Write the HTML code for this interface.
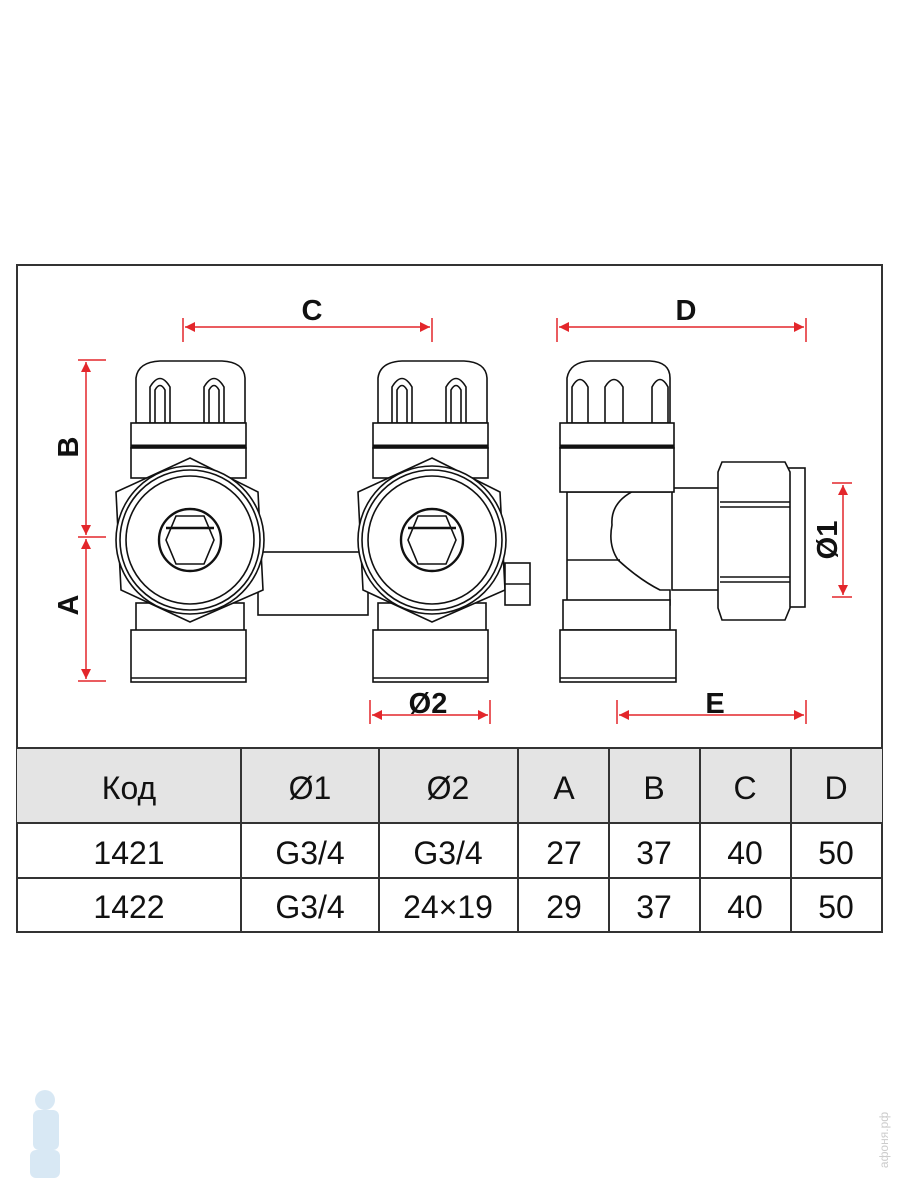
<!DOCTYPE html>
<html><head><meta charset="utf-8"><style>
html,body{margin:0;padding:0;background:#fff;width:900px;height:1200px;overflow:hidden}
svg{display:block}
text{font-family:"Liberation Sans",sans-serif}
</style></head><body>
<svg width="900" height="1200" viewBox="0 0 900 1200" xmlns="http://www.w3.org/2000/svg">
<defs>
<marker id="ar" viewBox="0 0 10 10" refX="10" refY="5" markerWidth="22" markerHeight="10" orient="auto-start-reverse" markerUnits="userSpaceOnUse"><path d="M0,0L10,5L0,10z" fill="#e3262b"/></marker>
<g id="valve" fill="#fff" stroke="#111" stroke-width="1.6">
  <path d="M136,378 Q138,362 160,361 L222,361 Q244,362 245,378 L245,423 L136,423z"/>
  <path d="M150,423 L150,387 Q160,370 170,387 L170,423 M204,423 L204,387 Q214,370 224,387 L224,423" fill="none"/>
  <path d="M155,423 L155,390 Q160,381 165,390 L165,423 M209,423 L209,390 Q214,381 219,390 L219,423" fill="none"/>
  <rect x="131" y="423" width="115" height="25"/>
  <line x1="131" y1="446" x2="246" y2="446" stroke-width="3"/>
  <rect x="131" y="448" width="115" height="30"/>
  <rect x="136" y="603" width="108" height="28"/>
  <rect x="131" y="630" width="115" height="52"/>
  <line x1="131" y1="678" x2="246" y2="678"/>
  <polygon points="190,458 258,492 263,590 190,622 121,590 116,492"/>
  <circle cx="190" cy="540" r="74"/>
  <circle cx="190" cy="540" r="70"/>
  <circle cx="190" cy="540" r="64"/>
  <circle cx="190" cy="540" r="31" stroke-width="2.4"/>
  <polygon points="176,516 204,516 214,540 204,564 176,564 166,540"/>
  <line x1="166" y1="528" x2="214" y2="528" stroke-width="2.5"/>
</g>
</defs>
<rect x="17" y="265" width="865" height="667" fill="#fff" stroke="#333" stroke-width="2"/>
<rect x="258" y="552" width="110" height="63" fill="#fff" stroke="#111" stroke-width="1.6"/>
<use href="#valve"/>
<use href="#valve" x="242"/>
<rect x="505" y="563" width="25" height="42" fill="#fff" stroke="#111" stroke-width="1.6"/>
<line x1="505" y1="584" x2="530" y2="584" stroke="#111" stroke-width="1.6"/>
<g fill="#fff" stroke="#111" stroke-width="1.6">
  <rect x="672" y="488" width="50" height="102"/>
  <path d="M567,448 L670,448 L670,488 L640,488 Q610,500 612,525 Q608,545 618,560 Q640,580 660,590 L670,590 L670,605 L567,605z"/>
  <line x1="567" y1="492" x2="670" y2="492"/>
  <line x1="567" y1="560" x2="620" y2="560"/>
  <path d="M567,378 Q570,362 590,361 L650,361 Q670,362 670,378 L670,423 L567,423z"/>
  <path d="M572,423 L572,387 Q580,372 588,387 L588,423 M605,423 L605,387 Q614,372 623,387 L623,423 M652,423 L652,387 Q660,372 668,387 L668,423" fill="none"/>
  <rect x="560" y="423" width="114" height="25"/>
  <line x1="560" y1="446" x2="674" y2="446" stroke-width="3"/>
  <rect x="560" y="448" width="114" height="44"/>
  <rect x="563" y="600" width="107" height="30"/>
  <rect x="560" y="630" width="116" height="52"/>
  <line x1="560" y1="678" x2="676" y2="678"/>
  <rect x="788" y="468" width="17" height="139"/>
  <polygon points="722,462 785,462 790,472 790,608 785,620 722,620 718,608 718,472"/>
  <line x1="720" y1="502" x2="790" y2="502"/><line x1="720" y1="507" x2="790" y2="507"/>
  <line x1="720" y1="577" x2="790" y2="577"/><line x1="720" y1="582" x2="790" y2="582"/>
</g>
<g stroke="#e3262b" stroke-width="1.5" fill="none">
  <line x1="183" y1="318" x2="183" y2="342"/><line x1="432" y1="318" x2="432" y2="342"/>
  <line x1="185" y1="327" x2="430" y2="327" marker-start="url(#ar)" marker-end="url(#ar)"/>
  <line x1="557" y1="318" x2="557" y2="342"/><line x1="806" y1="318" x2="806" y2="342"/>
  <line x1="559" y1="327" x2="804" y2="327" marker-start="url(#ar)" marker-end="url(#ar)"/>
  <line x1="78" y1="360" x2="106" y2="360"/><line x1="78" y1="537" x2="106" y2="537"/><line x1="78" y1="681" x2="106" y2="681"/>
  <line x1="86" y1="362" x2="86" y2="535" marker-start="url(#ar)" marker-end="url(#ar)"/>
  <line x1="86" y1="539" x2="86" y2="679" marker-start="url(#ar)" marker-end="url(#ar)"/>
  <line x1="370" y1="700" x2="370" y2="724"/><line x1="490" y1="700" x2="490" y2="724"/>
  <line x1="372" y1="715" x2="488" y2="715" marker-start="url(#ar)" marker-end="url(#ar)"/>
  <line x1="617" y1="700" x2="617" y2="724"/><line x1="806" y1="700" x2="806" y2="724"/>
  <line x1="619" y1="715" x2="804" y2="715" marker-start="url(#ar)" marker-end="url(#ar)"/>
  <line x1="832" y1="483" x2="852" y2="483"/><line x1="832" y1="597" x2="852" y2="597"/>
  <line x1="843" y1="485" x2="843" y2="595" marker-start="url(#ar)" marker-end="url(#ar)"/>
</g>
<g font-weight="bold" font-size="29" fill="#111" text-anchor="middle">
  <text x="312" y="320">C</text>
  <text x="686" y="320">D</text>
  <text x="428" y="713">Ø2</text>
  <text x="715" y="713">E</text>
  <text transform="translate(78,447) rotate(-90)">B</text>
  <text transform="translate(78,605) rotate(-90)">A</text>
  <text transform="translate(837,540) rotate(-90)">Ø1</text>
</g>
<rect x="17" y="748" width="865" height="75" fill="#e4e4e4"/>
<g stroke="#333" stroke-width="2">
  <line x1="17" y1="748" x2="882" y2="748"/>
  <line x1="17" y1="823" x2="882" y2="823"/>
  <line x1="17" y1="878" x2="882" y2="878"/>
  <line x1="241" y1="748" x2="241" y2="932"/>
  <line x1="379" y1="748" x2="379" y2="932"/>
  <line x1="518" y1="748" x2="518" y2="932"/>
  <line x1="609" y1="748" x2="609" y2="932"/>
  <line x1="700" y1="748" x2="700" y2="932"/>
  <line x1="791" y1="748" x2="791" y2="932"/>
</g>
<g font-size="32" fill="#111" text-anchor="middle">
  <text x="129" y="799">Код</text><text x="310" y="799">Ø1</text><text x="448" y="799">Ø2</text><text x="564" y="799">A</text><text x="654" y="799">B</text><text x="745" y="799">C</text><text x="836" y="799">D</text>
  <text x="129" y="864">1421</text><text x="310" y="864">G3/4</text><text x="448" y="864">G3/4</text><text x="564" y="864">27</text><text x="654" y="864">37</text><text x="745" y="864">40</text><text x="836" y="864">50</text>
  <text x="129" y="918">1422</text><text x="310" y="918">G3/4</text><text x="448" y="918">24×19</text><text x="564" y="918">29</text><text x="654" y="918">37</text><text x="745" y="918">40</text><text x="836" y="918">50</text>
</g>
<g fill="#cfe3f2" opacity="0.8">
  <circle cx="45" cy="1100" r="10"/><rect x="33" y="1110" width="26" height="40" rx="6"/><rect x="30" y="1150" width="30" height="28" rx="6"/>
</g>
<text transform="translate(888,1140) rotate(-90)" font-size="12" fill="#ccc" text-anchor="middle">афоня.рф</text>
</svg>
</body></html>
